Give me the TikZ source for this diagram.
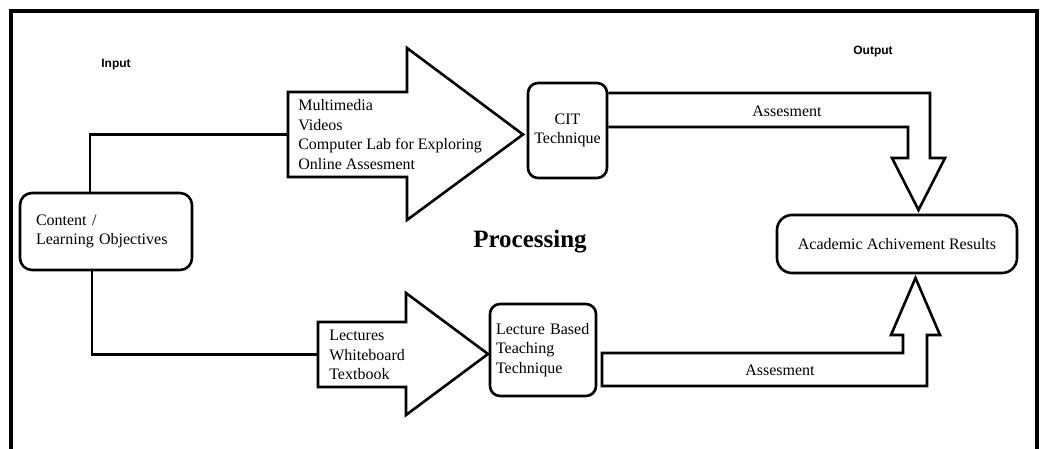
\documentclass[tikz,border=0pt]{standalone}
\usepackage{fontspec}
\setmainfont{Liberation Serif}
\newfontfamily\labfont{Liberation Sans}
\begin{document}
\begin{tikzpicture}[x=1pt,y=-1pt,
  line width=2.6pt, line join=miter,
  bodyfont/.style={font=\fontsize{16}{19.5}\selectfont},
  rbox/.style={draw, rounded corners=#1, inner sep=0pt, bodyfont},
  txt/.style={inner sep=0pt, bodyfont},
  head/.style={inner sep=0pt, font=\labfont\bfseries\fontsize{12}{14}\selectfont},
  bigarrow/.style={draw, fill=white},
  assess/.style={draw}]
\useasboundingbox (0,0) rectangle (1046,449);
% frame
\draw[line width=3.4pt] (11,449) -- (11,11) -- (1037,11) -- (1037,449);

% headings
\node[head] (input) at (116,65) {Input};
\node[head] (output) at (873,52) {Output};
\node[inner sep=0pt, font=\bfseries\fontsize{25}{30}\selectfont] (proc) at (530,242) {Processing};

% boxes
\node[rbox=12pt, minimum width=172pt, minimum height=77pt, text width=140pt, align=left] (cont) at (106,231.5) {Content /\\Learning Objectives};
\node[rbox=10pt, minimum width=79pt, minimum height=95pt, align=center] (cit) at (567.5,130.5) {CIT\\Technique};
\node[rbox=10pt, minimum width=106pt, minimum height=92pt, text width=94pt, align=left] (lect) at (543,350) {Lecture Based\\Teaching\\Technique};
\node[rbox=15pt, minimum width=240pt, minimum height=58pt, align=center] (acad) at (897,244) {Academic Achivement Results};

% big input arrows
\coordinate (a1tail) at (288,134.5);
\coordinate (a2tail) at (318,354.5);
\draw[bigarrow] (288,92) -- (407,92) -- (407,48) -- (523,134.5) -- (407,220) -- (407,177) -- (288,177) -- cycle;
\node[txt, anchor=west, align=left] (a1txt) at (297,134.5) {Multimedia\\Videos\\Computer Lab for Exploring\\Online Assesment};
\draw[bigarrow] (318,322) -- (406,322) -- (406,293) -- (488,354) -- (406,415) -- (406,387) -- (318,387) -- cycle;
\node[txt, anchor=west, align=left] (a2txt) at (328,355) {Lectures\\Whiteboard\\Textbook};

% connectors from content box
\draw ([xshift=-16pt]cont.north) |- (a1tail);
\draw ([xshift=-14pt]cont.south) |- (a2tail);

% assessment arrows
\draw[assess] (cit.east |- 0,93) -- (930,93) -- (930,158) -- (945,158) -- (918.5,210) -- (892,158) -- (908,158) -- (908,127) -- (cit.east |- 0,127);
\node[txt] (as1) at (787,111) {Assesment};
\draw[assess] (602,353) -- (903,353) -- (903,335) -- (891,335) -- (915.5,278) -- (940,335) -- (927,335) -- (927,386) -- (602,386) -- cycle;
\node[txt] (as2) at (780,370) {Assesment};
\end{tikzpicture}
\end{document}
